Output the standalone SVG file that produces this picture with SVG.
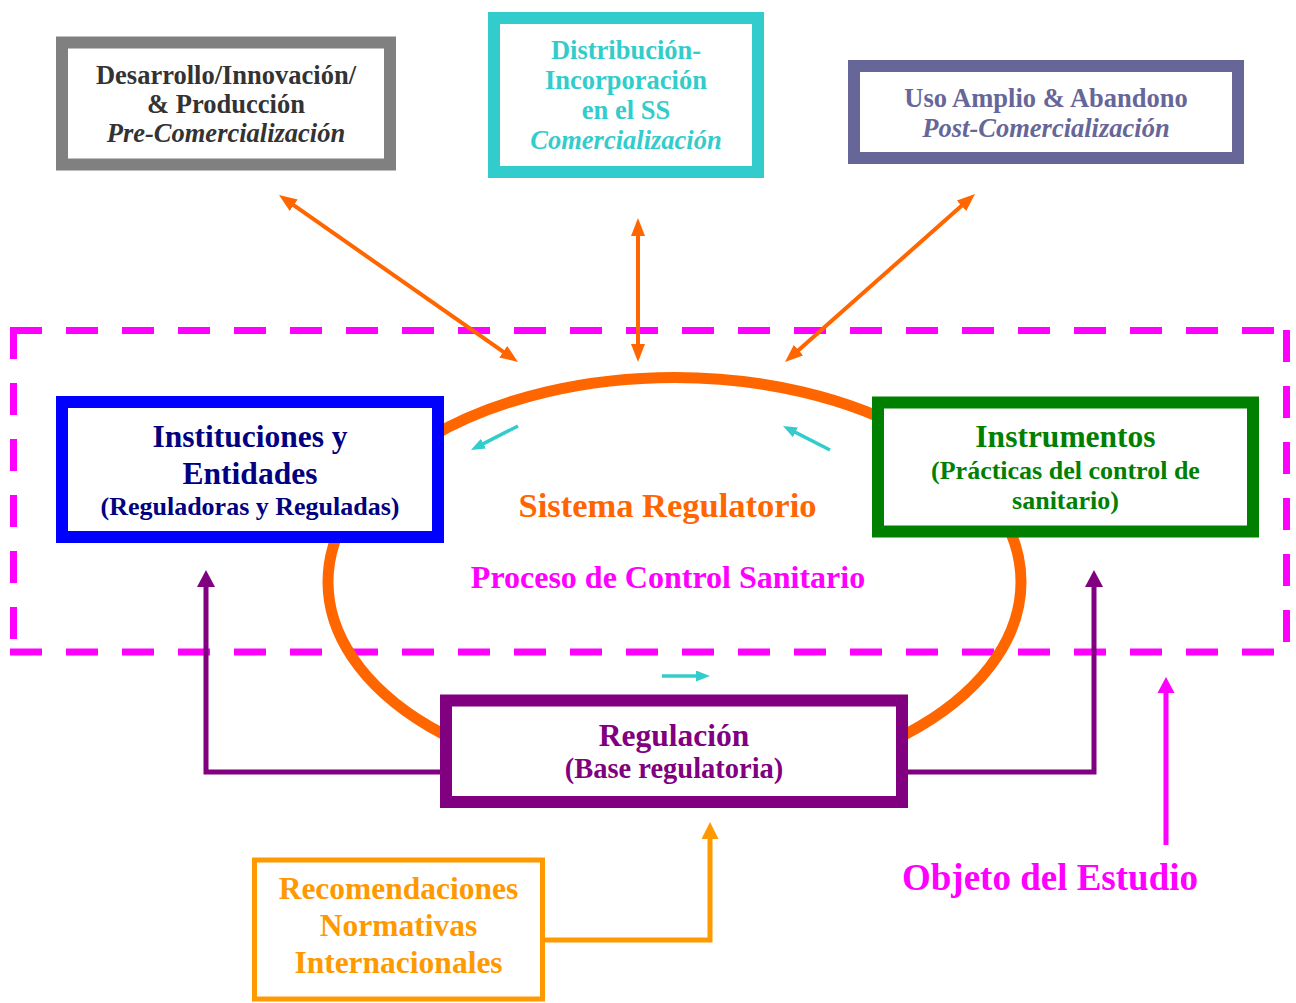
<svg xmlns="http://www.w3.org/2000/svg" width="1296" height="1003" viewBox="0 0 1296 1003">
<style>
text{font-family:"Liberation Serif","Times New Roman",serif;font-weight:bold;text-anchor:middle}
.it{font-style:italic}
.box{fill:#fff}
.dash{stroke:#FF00FF;stroke-width:7;stroke-dasharray:32 24;fill:none}
.co{stroke:#FF6600;stroke-width:4;fill:none;marker-start:url(#arrO);marker-end:url(#arrO)}
.cc{stroke:#33CCCC;stroke-width:3.5;fill:none;marker-end:url(#arrC)}
.cp{stroke:#800080;stroke-width:5;fill:none;marker-end:url(#arrP)}
</style>
<defs>
<marker id="arrO" markerUnits="userSpaceOnUse" markerWidth="18" markerHeight="14" refX="8" refY="7" orient="auto-start-reverse"><path d="M0,0 L18,7 L0,14 z" fill="#FF6600"/></marker>
<marker id="arrC" markerUnits="userSpaceOnUse" markerWidth="14" markerHeight="11" refX="6" refY="5.5" orient="auto"><path d="M0,0 L14,5.5 L0,11 z" fill="#33CCCC"/></marker>
<marker id="arrP" markerUnits="userSpaceOnUse" markerWidth="17" markerHeight="18" refX="7" refY="9" orient="auto"><path d="M0,0 L17,9 L0,18 z" fill="#800080"/></marker>
<marker id="arrY" markerUnits="userSpaceOnUse" markerWidth="17" markerHeight="17" refX="7" refY="8.5" orient="auto"><path d="M0,0 L17,8.5 L0,17 z" fill="#FF9900"/></marker>
<marker id="arrM" markerUnits="userSpaceOnUse" markerWidth="16" markerHeight="17" refX="6" refY="8.5" orient="auto"><path d="M0,0 L16,8.5 L0,17 z" fill="#FF00FF"/></marker>
</defs>

<g id="objeto-estudio-marco">
<line class="dash" x1="10" y1="330.5" x2="1290" y2="330.5"/>
<line class="dash" x1="10" y1="652" x2="1290" y2="652"/>
<line class="dash" x1="13.5" y1="327" x2="13.5" y2="655"/>
<line class="dash" x1="1286.5" y1="330" x2="1286.5" y2="655"/>
</g>

<g id="sistema-regulatorio">
<ellipse cx="674.5" cy="582" rx="346.5" ry="204.5" fill="none" stroke="#FF6600" stroke-width="11"/>
<text x="667.5" y="517" font-size="34.5" fill="#FF6600">Sistema Regulatorio</text>
<text x="668" y="588" font-size="32" fill="#FF00FF">Proceso de Control Sanitario</text>
</g>

<g id="connectors">
<line class="co" x1="287.2" y1="200.7" x2="509.8" y2="356.3"/>
<line class="co" x1="638" y1="228" x2="638" y2="352"/>
<line class="co" x1="967.5" y1="200.6" x2="792.5" y2="355.4"/>
<line class="cc" x1="518" y1="426" x2="478.1" y2="446.4"/>
<line class="cc" x1="830" y1="450" x2="790.1" y2="429.6"/>
<line class="cc" x1="662" y1="676" x2="702" y2="676"/>
<path class="cp" d="M440,772 H206 V580"/>
<path class="cp" d="M908,772 H1094 V580"/>
<path d="M545,940 H710 V832" fill="none" stroke="#FF9900" stroke-width="5" marker-end="url(#arrY)"/>
<line x1="1166" y1="845" x2="1166" y2="687" stroke="#FF00FF" stroke-width="5" marker-end="url(#arrM)"/>
</g>

<g id="desarrollo">
<rect class="box" x="62" y="42.5" width="328" height="122" stroke="#808080" stroke-width="12"/>
<text x="226" y="84" font-size="26.5" fill="#333333">Desarrollo/Innovación/</text>
<text x="226" y="113" font-size="26.5" fill="#333333">&amp; Producción</text>
<text x="226" y="142" font-size="26.5" fill="#333333" class="it">Pre-Comercialización</text>
</g>

<g id="distribucion">
<rect class="box" x="494" y="18" width="264" height="154" stroke="#33CCCC" stroke-width="12"/>
<text x="626" y="59" font-size="26.5" fill="#33CCCC">Distribución-</text>
<text x="626" y="89" font-size="26.5" fill="#33CCCC">Incorporación</text>
<text x="626" y="119" font-size="26.5" fill="#33CCCC">en el SS</text>
<text x="626" y="149" font-size="26.5" fill="#33CCCC" class="it">Comercialización</text>
</g>

<g id="uso-amplio">
<rect class="box" x="854" y="66" width="384" height="92" stroke="#666699" stroke-width="12"/>
<text x="1046" y="107" font-size="26.5" fill="#666699">Uso Amplio &amp; Abandono</text>
<text x="1046" y="137" font-size="26.5" fill="#666699" class="it">Post-Comercialización</text>
</g>

<g id="instituciones">
<rect class="box" x="62" y="402" width="376" height="135" stroke="#0000FF" stroke-width="12"/>
<text x="250" y="447" font-size="31.5" fill="#000080">Instituciones y</text>
<text x="250" y="484" font-size="31.5" fill="#000080">Entidades</text>
<text x="250" y="515" font-size="26" fill="#000080">(Reguladoras y Reguladas)</text>
</g>

<g id="instrumentos">
<rect class="box" x="878" y="402.5" width="375" height="129" stroke="#008000" stroke-width="12"/>
<text x="1065.5" y="447" font-size="31.5" fill="#008000">Instrumentos</text>
<text x="1065.5" y="479" font-size="26" fill="#008000">(Prácticas del control de</text>
<text x="1065.5" y="509" font-size="26" fill="#008000">sanitario)</text>
</g>

<g id="regulacion">
<rect class="box" x="446" y="700.5" width="456" height="101.5" stroke="#800080" stroke-width="12"/>
<text x="674" y="746" font-size="31.5" fill="#800080">Regulación</text>
<text x="674" y="778" font-size="28.5" fill="#800080">(Base regulatoria)</text>
</g>

<g id="recomendaciones">
<rect class="box" x="254.5" y="860" width="288" height="139" stroke="#FF9900" stroke-width="5"/>
<text x="398.5" y="899" font-size="31.5" fill="#FF9900">Recomendaciones</text>
<text x="398.5" y="936" font-size="31.5" fill="#FF9900">Normativas</text>
<text x="398.5" y="973" font-size="31.5" fill="#FF9900">Internacionales</text>
</g>

<g id="objeto-estudio">
<text x="1050" y="890" font-size="37" fill="#FF00FF">Objeto del Estudio</text>
</g>
</svg>
